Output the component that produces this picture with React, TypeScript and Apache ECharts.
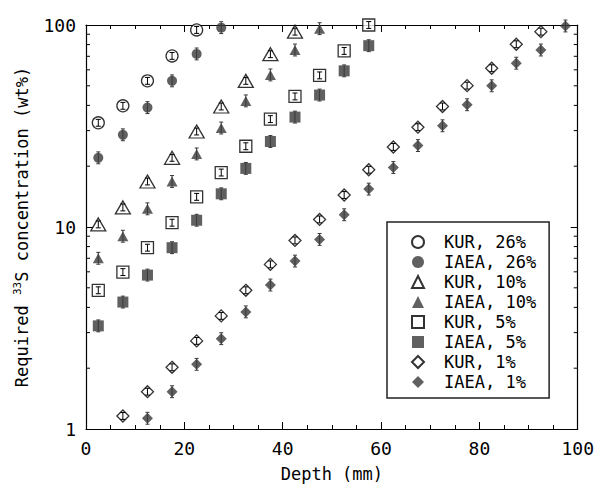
import React, { useEffect, useRef } from "react";
import * as echarts from "echarts";

// Sampling depths (mm), centres of 5 mm slabs
const DEPTH = [
  2.5, 7.5, 12.5, 17.5, 22.5, 27.5, 32.5, 37.5, 42.5, 47.5,
  52.5, 57.5, 62.5, 67.5, 72.5, 77.5, 82.5, 87.5, 92.5, 97.5,
];

// Required 33S concentration (wt%) per depth, by source and enrichment
const KUR_26 = [32.8, 39.8, 52.9, 70.3, 94.5];
const IAEA_26 = [22.0, 28.6, 39.0, 52.9, 71.9, 97.0];
const KUR_10 = [10.3, 12.5, 16.8, 22.0, 29.7, 39.5, 52.9, 71.7, 92.7];
const IAEA_10 = [7.0, 9.0, 12.3, 16.8, 23.0, 30.9, 42.1, 56.6, 75.2, 95.9];
const KUR_5 = [4.86, 5.98, 7.9, 10.5, 14.1, 18.6, 25.1, 34.2, 44.3, 56.3, 74.4, 100];
const IAEA_5 = [3.24, 4.25, 5.78, 7.9, 10.8, 14.6, 19.5, 26.5, 35.0, 45.0, 59.3, 79.0];
const KUR_1 = [
  1.16, 1.53, 2.02, 2.73, 3.63, 4.86, 6.53, 8.58, 10.9, 14.4,
  19.2, 24.9, 31.2, 39.5, 50.1, 61.1, 80.3, 92.7,
];
const IAEA_1 = [
  1.13, 1.53, 2.09, 2.8, 3.8, 5.16, 6.78, 8.68, 11.5, 15.4,
  19.7, 25.3, 31.7, 40.3, 50.0, 64.7, 75.2, 98.9,
];

// Relative uncertainty shown as error bars
const KUR_REL_ERR = 0.04;
const IAEA_REL_ERR = 0.07;

// Log-axis minor tick positions
const Y_MINOR_TICKS = [2, 3, 4, 5, 6, 7, 8, 9, 20, 30, 40, 50, 60, 70, 80, 90];

const MONO = "'DejaVu Sans Mono', 'Liberation Mono', monospace";
const DARK = "#383838";

type Def = {
  name: string;
  start: number;
  values: number[];
  symbol: string;
  size: number | number[];
  open: boolean;
};

const DEFS: Def[] = [
  { name: "KUR, 26%", start: 0, values: KUR_26, symbol: "circle", size: 12, open: true },
  { name: "IAEA, 26%", start: 0, values: IAEA_26, symbol: "circle", size: 10, open: false },
  { name: "KUR, 10%", start: 0, values: KUR_10, symbol: "triangle", size: [15, 13], open: true },
  { name: "IAEA, 10%", start: 0, values: IAEA_10, symbol: "triangle", size: [11, 10], open: false },
  { name: "KUR, 5%", start: 0, values: KUR_5, symbol: "rect", size: 12, open: true },
  { name: "IAEA, 5%", start: 0, values: IAEA_5, symbol: "rect", size: 11, open: false },
  { name: "KUR, 1%", start: 1, values: KUR_1, symbol: "diamond", size: 12, open: true },
  { name: "IAEA, 1%", start: 2, values: IAEA_1, symbol: "diamond", size: 11, open: false },
];

function points(d: Def) {
  return d.values.map((v, i) => [DEPTH[d.start + i], v]);
}

function errorBarSeries(d: Def) {
  const rel = d.open ? KUR_REL_ERR : IAEA_REL_ERR;
  const stroke = d.open ? "#000" : DARK;
  const capHalf = d.open ? 2.5 : 2;
  return {
    type: "custom",
    name: d.name + " (err)",
    data: points(d),
    z: 4,
    silent: true,
    clip: false,
    renderItem: (_params: any, api: any) => {
      const x = api.value(0);
      const y = api.value(1);
      const top = api.coord([x, y * (1 + rel)]);
      const bot = api.coord([x, y / (1 + rel)]);
      const cx = top[0];
      const style = { stroke, lineWidth: 1 };
      return {
        type: "group",
        children: [
          { type: "line", shape: { x1: cx, y1: top[1], x2: cx, y2: bot[1] }, style },
          { type: "line", shape: { x1: cx - capHalf, y1: top[1], x2: cx + capHalf, y2: top[1] }, style },
          { type: "line", shape: { x1: cx - capHalf, y1: bot[1], x2: cx + capHalf, y2: bot[1] }, style },
        ],
      };
    },
  };
}

export default function App() {
  const ref = useRef<HTMLDivElement>(null);

  useEffect(() => {
    document.body.style.margin = "0";
    if (!ref.current) return;
    const chart = echarts.init(ref.current, null, { renderer: "svg" });

    const axisLine = { show: true, onZero: false, lineStyle: { color: "#000", width: 1.2 } };
    const tickStyle = { color: "#000", width: 1 };
    const labelStyle = { fontFamily: MONO, fontSize: 18, color: "#000" };
    const nameStyle = { fontFamily: MONO, fontSize: 17, color: "#000" };

    const scatter = DEFS.map((d) => ({
      type: "scatter",
      name: d.name,
      data: points(d),
      symbol: d.symbol,
      symbolSize: d.size,
      symbolKeepAspect: true,
      clip: false,
      z: 2,
      itemStyle: d.open
        ? { color: "#fff", borderColor: "#000", borderWidth: 1.3 }
        : { color: DARK, borderWidth: 0 },
      emphasis: { disabled: true },
    }));

    const minorTicks = {
      type: "custom",
      name: "y minor ticks",
      data: Y_MINOR_TICKS.map((v) => [0, v]),
      silent: true,
      clip: false,
      z: 1,
      renderItem: (_params: any, api: any) => {
        const v = api.value(1);
        const l = api.coord([0, v]);
        const r = api.coord([100, v]);
        const style = { stroke: "#000", lineWidth: 1 };
        return {
          type: "group",
          children: [
            { type: "line", shape: { x1: l[0], y1: l[1], x2: l[0] + 4, y2: l[1] }, style },
            { type: "line", shape: { x1: r[0] - 4, y1: r[1], x2: r[0], y2: r[1] }, style },
          ],
        };
      },
    };

    chart.setOption({
      animation: false,
      backgroundColor: "#fff",
      grid: { left: 86, right: 18, top: 25, bottom: 57, containLabel: false },
      legend: {
        data: DEFS.map((d) => d.name),
        orient: "vertical",
        left: 387,
        top: 222,
        padding: [10, 13, 6, 24],
        itemWidth: 12,
        itemHeight: 12,
        itemGap: 0,
        symbolKeepAspect: true,
        borderColor: "#222",
        borderWidth: 1.5,
        backgroundColor: "#fff",
        selectedMode: false,
        textStyle: {
          fontFamily: MONO,
          fontSize: 17,
          color: "#000",
          lineHeight: 20,
          padding: [0, 0, 0, 15],
        },
      },
      xAxis: [
        {
          type: "value",
          min: 0,
          max: 100,
          interval: 20,
          position: "bottom",
          name: "Depth (mm)",
          nameLocation: "middle",
          nameGap: 36,
          nameTextStyle: nameStyle,
          axisLine,
          axisTick: { show: true, inside: true, length: 7, lineStyle: tickStyle },
          minorTick: { show: true, splitNumber: 4, length: 4, lineStyle: tickStyle },
          axisLabel: { ...labelStyle, margin: 10 },
          splitLine: { show: false },
        },
        {
          type: "value",
          min: 0,
          max: 100,
          interval: 20,
          position: "top",
          axisLine,
          axisTick: { show: true, inside: true, length: 7, lineStyle: tickStyle },
          minorTick: { show: true, splitNumber: 4, length: 4, lineStyle: tickStyle },
          axisLabel: { show: false },
          splitLine: { show: false },
        },
      ],
      yAxis: [
        {
          type: "log",
          logBase: 10,
          min: 1,
          max: 100,
          position: "left",
          name: "Required {sup|33}S concentration (wt%)",
          nameLocation: "middle",
          nameGap: 54,
          nameRotate: 90,
          nameTextStyle: {
            ...nameStyle,
            lineHeight: 20,
            rich: {
              sup: {
                fontFamily: MONO,
                fontSize: 11,
                color: "#000",
                lineHeight: 12,
                verticalAlign: "top",
              },
            },
          },
          axisLine,
          axisTick: { show: true, inside: true, length: 7, lineStyle: tickStyle },
          axisLabel: { ...labelStyle, margin: 10 },
          splitLine: { show: false },
        },
        {
          type: "log",
          logBase: 10,
          min: 1,
          max: 100,
          position: "right",
          axisLine,
          axisTick: { show: true, inside: true, length: 7, lineStyle: tickStyle },
          axisLabel: { show: false },
          splitLine: { show: false },
        },
      ],
      series: [minorTicks, ...scatter, ...DEFS.map(errorBarSeries)],
    });

    return () => chart.dispose();
  }, []);

  return <div ref={ref} style={{ width: 597, height: 487 }} />;
}
